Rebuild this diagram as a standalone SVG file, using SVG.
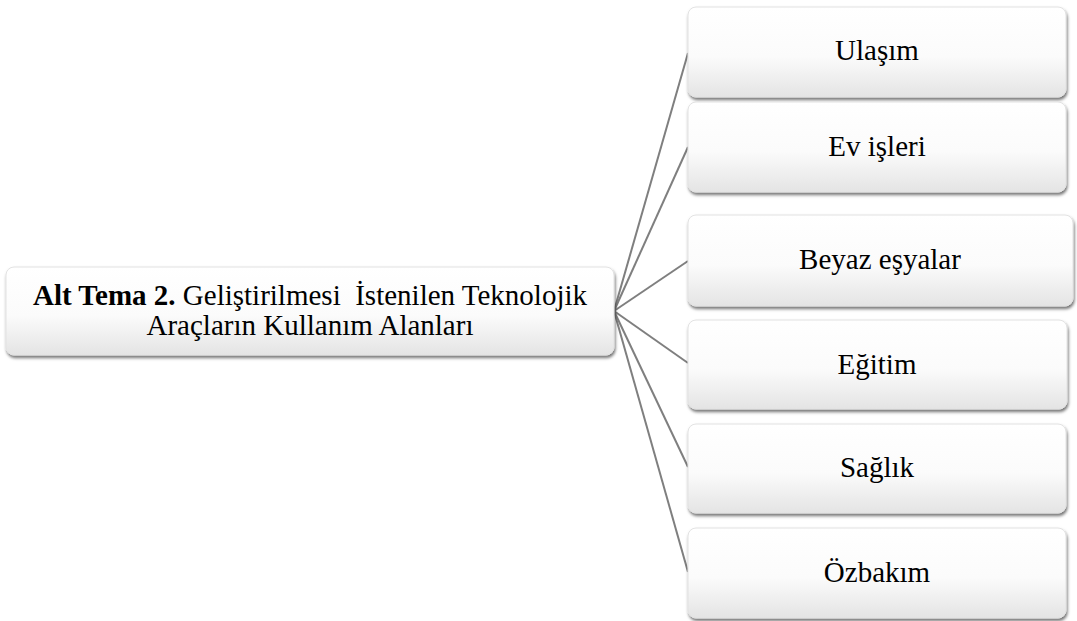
<svg xmlns="http://www.w3.org/2000/svg" width="1077" height="621" viewBox="0 0 1077 621">
<defs>
<linearGradient id="g" x1="0" y1="0" x2="0" y2="1">
<stop offset="0" stop-color="#ffffff"/>
<stop offset="0.55" stop-color="#fbfbfb"/>
<stop offset="1" stop-color="#e4e4e4"/>
</linearGradient>
<filter id="sh" x="-5%" y="-10%" width="110%" height="125%">
<feDropShadow dx="1" dy="2.5" stdDeviation="1.6" flood-color="#000" flood-opacity="0.55"/>
</filter>
</defs>
<style>
.box{fill:url(#g);stroke:#e2e2e2;stroke-width:1;filter:url(#sh);}
.c{stroke:#7f7f7f;stroke-width:2;fill:none;}
</style>
<rect width="1077" height="621" fill="#ffffff"/>
<g id="connectors">
<line class="c" x1="614" y1="311" x2="688" y2="53"/>
<line class="c" x1="614" y1="311" x2="688" y2="147"/>
<line class="c" x1="614" y1="311" x2="688" y2="261"/>
<line class="c" x1="614" y1="311" x2="688" y2="363"/>
<line class="c" x1="614" y1="311" x2="688" y2="467"/>
<line class="c" x1="614" y1="311" x2="688" y2="572"/>
</g>
<g font-family="'Liberation Serif', 'Times New Roman', serif" font-size="29" fill="#000" text-anchor="middle">
<g id="root">
<rect class="box" x="6" y="267" width="608" height="88" rx="8"/>
<text x="310" y="305" xml:space="preserve"><tspan font-weight="bold">Alt Tema 2.</tspan> Geliştirilmesi  İstenilen Teknolojik</text>
<text x="310" y="335">Araçların Kullanım Alanları</text>
</g>
<g id="n1">
<rect class="box" x="688" y="7" width="378" height="90" rx="8"/>
<text x="877" y="60">Ulaşım</text>
</g>
<g id="n2">
<rect class="box" x="688" y="102" width="378" height="90" rx="8"/>
<text x="877" y="156">Ev işleri</text>
</g>
<g id="n3">
<rect class="box" x="688" y="215" width="385" height="91" rx="8"/>
<text x="880" y="269">Beyaz eşyalar</text>
</g>
<g id="n4">
<rect class="box" x="688" y="320" width="379" height="89" rx="8"/>
<text x="877" y="374">Eğitim</text>
</g>
<g id="n5">
<rect class="box" x="688" y="424" width="378" height="89" rx="8"/>
<text x="877" y="477">Sağlık</text>
</g>
<g id="n6">
<rect class="box" x="688" y="528" width="378" height="90" rx="8"/>
<text x="877" y="582">Özbakım</text>
</g>
</g>
</svg>
